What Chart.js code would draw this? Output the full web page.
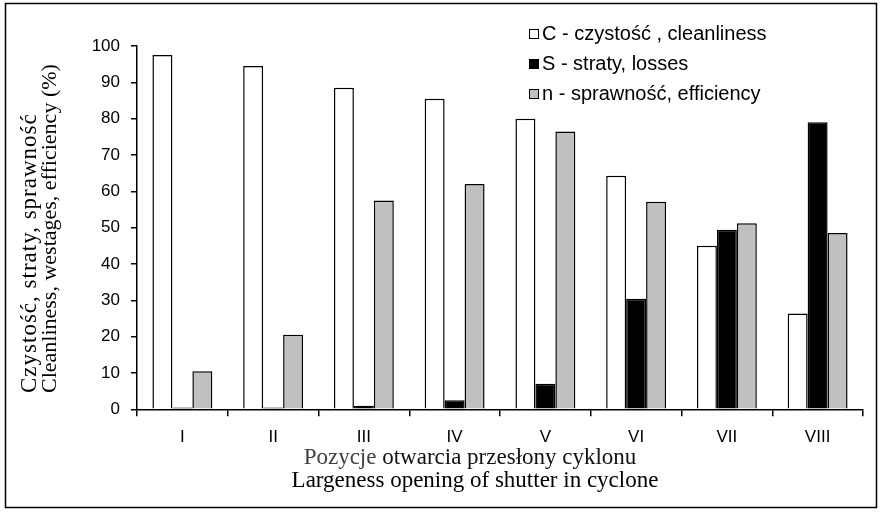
<!DOCTYPE html>
<html>
<head>
<meta charset="utf-8">
<script src="https://cdn.jsdelivr.net/npm/chart.js@4.4.1/dist/chart.umd.min.js"></script>
<style>
html,body{margin:0;padding:0;background:#fff;}
#wrap{width:880px;height:512px;position:relative;}
</style>
</head>
<body>
<div id="wrap"><canvas id="c" width="880" height="512"></canvas></div>
<script>
const categories = ['I','II','III','IV','V','VI','VII','VIII'];
const cleanliness = [97.5, 94.5, 88.5, 85.5, 80.0, 64.3, 45.0, 26.4];
const losses      = [0.5, 0.5, 1.0, 2.5, 7.0, 30.4, 49.4, 79.0];
const efficiency  = [10.5, 20.5, 57.5, 62.0, 76.5, 57.1, 51.2, 48.5];
const seriesLabels = ['C - czystość , cleanliness', 'S - straty, losses', 'n - sprawność, efficiency'];
const yTicks = [0,10,20,30,40,50,60,70,80,90,100];
const yTitleLines = ['Czystość, straty, sprawność', 'Cleanliness, westages, efficiency (%)'];
const xTitleLine1 = ['Pozycje', ' otwarcia przesłony cyklonu'];
const xTitleLine2 = 'Largeness opening of shutter in cyclone';

const frame = {
  id: 'frame',
  afterDraw(chart) {
    const ctx = chart.ctx;
    ctx.save();
    ctx.strokeStyle = '#000';
    ctx.lineWidth = 1.5;
    ctx.strokeRect(5.5, 3.5, 871, 504);
    ctx.restore();
  }
};

const titles = {
  id: 'titles',
  afterDraw(chart) {
    const ctx = chart.ctx;
    ctx.save();
    ctx.fillStyle = '#000';
    ctx.textBaseline = 'middle';
    // y title
    ctx.save();
    ctx.translate(30, 393);
    ctx.rotate(-Math.PI/2);
    ctx.textAlign = 'left';
    ctx.font = '23px "Liberation Serif", "Times New Roman", serif';
    if ('letterSpacing' in ctx) ctx.letterSpacing = '1px';
    ctx.fillText(yTitleLines[0], 0, 0);
    if ('letterSpacing' in ctx) ctx.letterSpacing = '0px';
    ctx.font = '22px "Liberation Serif", "Times New Roman", serif';
    ctx.fillText(yTitleLines[1], 0, 20);
    ctx.restore();
    // x title
    ctx.font = '23px "Liberation Serif", "Times New Roman", serif';
    const cx = 475;
    const w0 = ctx.measureText(xTitleLine1[0]).width;
    const w1 = ctx.measureText(xTitleLine1[1]).width;
    const x0 = 470 - (w0 + w1) / 2;
    ctx.textAlign = 'left';
    ctx.fillStyle = '#404040';
    ctx.fillText(xTitleLine1[0], x0, 458);
    ctx.fillStyle = '#111';
    ctx.fillText(xTitleLine1[1], x0 + w0, 458);
    ctx.fillStyle = '#000';
    ctx.textAlign = 'center';
    ctx.fillText(xTitleLine2, cx, 481);
    ctx.restore();
  }
};

const legendPlugin = {
  id: 'customLegend',
  afterDraw(chart) {
    const ctx = chart.ctx;
    const rows = [34, 64, 94];
    ctx.save();
    ctx.font = '20px "Liberation Sans", Arial, sans-serif';
    ctx.textBaseline = 'middle';
    ctx.textAlign = 'left';
    chart.data.datasets.forEach((ds, i) => {
      const y = rows[i];
      ctx.fillStyle = ds.backgroundColor;
      ctx.strokeStyle = '#000';
      ctx.lineWidth = 1;
      ctx.fillRect(529.5, y - 4.5, 9, 9);
      ctx.strokeRect(529.5, y - 4.5, 9, 9);
      ctx.fillStyle = '#000';
      ctx.fillText(ds.label, 542, y);
    });
    ctx.restore();
  }
};

new Chart(document.getElementById('c'), {
  type: 'bar',
  data: {
    labels: categories,
    datasets: [
      { label: seriesLabels[0], data: cleanliness, backgroundColor: '#ffffff', borderColor: '#000', borderWidth: 1.5 },
      { label: seriesLabels[1], data: losses, backgroundColor: '#000000', borderColor: '#000', borderWidth: 1.5 },
      { label: seriesLabels[2], data: efficiency, backgroundColor: '#c0c0c0', borderColor: '#000', borderWidth: 1.5 }
    ]
  },
  options: {
    responsive: false,
    animation: false,
    devicePixelRatio: 1,
    layout: { padding: { top: 46, right: 17, left: 0, bottom: 0 } },
    plugins: { legend: { display: false }, tooltip: { enabled: false } },
    datasets: { bar: { categoryPercentage: 0.66, barPercentage: 1.0 } },
    scales: {
      x: {
        grid: { offset: true, drawOnChartArea: false, drawTicks: true, tickLength: 7, color: '#000', lineWidth: 1.5 },
        border: { display: true, color: '#000', width: 1.5 },
        ticks: { color: '#000', font: { family: '"Liberation Sans", Arial, sans-serif', size: 17 }, padding: 11 },
        afterFit(scale) { scale.height = 512 - 409.3; }
      },
      y: {
        min: 0, max: 100,
        afterBuildTicks(scale) { scale.ticks = yTicks.map(v => ({ value: v })); },
        grid: { drawOnChartArea: false, drawTicks: true, tickLength: 6, color: '#000', lineWidth: 1.5 },
        border: { display: true, color: '#000', width: 1.5 },
        ticks: { color: '#000', font: { family: '"Liberation Sans", Arial, sans-serif', size: 17 }, padding: 11 },
        afterFit(scale) { scale.width = 137; }
      }
    }
  },
  plugins: [frame, titles, legendPlugin]
});
</script>
</body>
</html>
